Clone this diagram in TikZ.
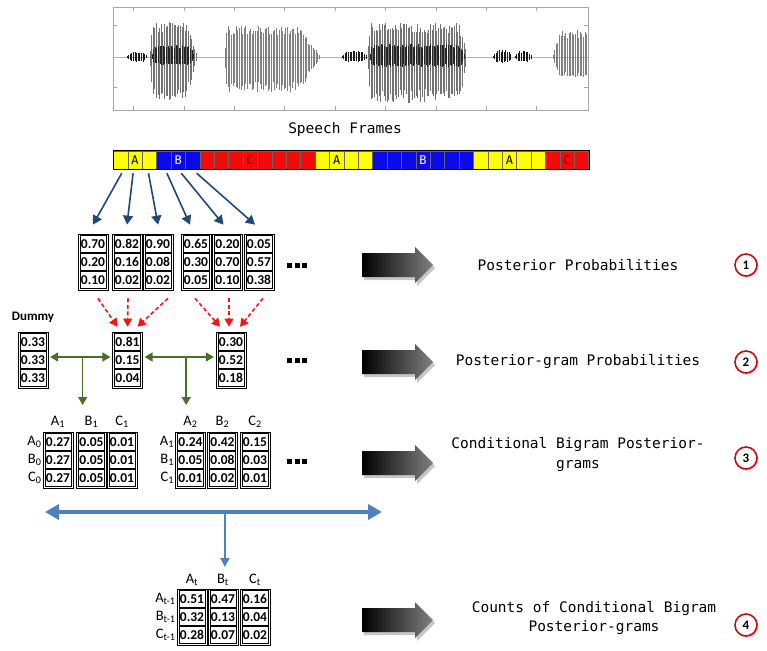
\documentclass[tikz,border=0pt]{standalone}
\usepackage{fontspec}
\setmainfont{Carlito}
\newfontfamily\codefont{DejaVu Sans Mono}
\usetikzlibrary{calc,fit,shadows,arrows.meta}

\definecolor{frameyellow}{RGB}{255,255,0}
\definecolor{frameblue}{RGB}{10,10,235}
\definecolor{framered}{RGB}{245,10,10}
\definecolor{letterred}{RGB}{120,0,0}
\definecolor{arrowblue}{RGB}{31,73,125}
\definecolor{dashred}{RGB}{250,20,20}
\definecolor{leafgreen}{RGB}{70,115,35}
\definecolor{lineblue}{RGB}{79,129,189}
\definecolor{ringred}{RGB}{195,15,15}

\tikzset{
  frmcell/.style={draw=black!60, line width=0.5pt, minimum width=14.4pt, minimum height=18pt, inner sep=0pt, font=\codefont\fontsize{12}{12}\selectfont},
  fy/.style={fill=frameyellow},
  fb/.style={fill=frameblue, text=white},
  fr/.style={fill=framered, text=letterred},
  prob/.style={draw, line width=0.6pt, minimum width=26pt, minimum height=16.5pt, inner sep=0pt, font=\bfseries\fontsize{13.5}{13.5}\selectfont},
  colbox/.style={draw, line width=0.6pt, inner sep=1.5pt},
  hdr/.style={inner sep=0pt, font=\fontsize{14.5}{14.5}\selectfont},
  note/.style={align=center, font=\codefont\fontsize{14.5}{20}\selectfont},
  stepnum/.style={circle, draw=ringred, line width=1.6pt, fill=white, minimum size=22pt, inner sep=0pt, font=\bfseries\fontsize{13}{13}\selectfont, drop shadow={opacity=0.35,shadow xshift=1.5pt,shadow yshift=-2pt}},
  framearr/.style={draw=arrowblue, line width=1.6pt, -{Triangle[length=9pt,width=10pt]}},
  mergearr/.style={draw=dashred, line width=1.6pt, dash pattern=on 4pt off 2.5pt, -{Triangle[length=8pt,width=9pt]}},
  pairarr/.style={draw=leafgreen, line width=1.6pt, {Triangle[length=8pt,width=9pt]}-{Triangle[length=8pt,width=9pt]}},
  downarr/.style={draw=leafgreen, line width=1.6pt, -{Triangle[length=8pt,width=9pt]}},
  spanarr/.style={draw=lineblue, line width=3.5pt, {Triangle[length=14pt,width=15pt]}-{Triangle[length=14pt,width=15pt]}},
  droparr/.style={draw=lineblue, line width=2pt, -{Triangle[length=9pt,width=9pt]}},
  bigarr/.style={left color=black, right color=black!50, drop shadow={opacity=0.45,shadow xshift=2pt,shadow yshift=-3pt}},
}

% one column of three boxed values
\newcommand{\probcol}[6]{%
  \node[prob] (#1-1) at (#2,#3) {#4};
  \node[prob] (#1-2) at (#2,#3+18) {#5};
  \node[prob] (#1-3) at (#2,#3+36) {#6};
  \node[colbox, fit=(#1-1)(#1-3)] (#1) {};
}

% one stretch of the speech signal: x0, x1, up, down, rise, fall, style
\newcommand{\speechseg}[7]{%
  \pgfmathtruncatemacro{\segn}{(#2-#1)/1.6}%
  \foreach \i in {0,...,\segn}{%
    \pgfmathsetmacro{\segx}{#1+1.6*\i}%
    \pgfmathsetmacro{\segenv}{min(1,(\segx-#1+1)/#5,(#2-\segx+1)/#6)}%
    \pgfmathsetmacro{\segup}{#3*\segenv*(0.7+0.3*rnd)}%
    \pgfmathsetmacro{\segdn}{#4*\segenv*(0.7+0.3*rnd)}%
    \draw[#7] (\segx,57-\segup) -- (\segx,57+\segdn);
  }%
}

\begin{document}
\begin{tikzpicture}[x=1pt,y=-1pt]
  \useasboundingbox (0,0) rectangle (767,650);
  %%%%% START %%%%%
  % speech signal
  \pgfmathsetseed{3}
  \draw[gray!70, line width=0.6pt] (113,7) rectangle (588,110);
  \foreach \k in {0,...,8}{
    \draw[gray!70] ({133.3+50.4*\k},7) -- ++(0,4);
    \draw[gray!70] ({133.3+50.4*\k},110) -- ++(0,-4);
  }
  \foreach \y in {25,57,87}{
    \draw[gray!70] (113,\y) -- ++(4,0);
    \draw[gray!70] (588,\y) -- ++(-4,0);
  }
  \draw[gray!60, line width=0.6pt] (113,57) -- (588,57);
  \speechseg{150}{197}{35}{43}{4}{12}{black!55, line width=1pt}
  \speechseg{225}{320}{32}{35}{3}{22}{black!50, line width=1pt}
  \speechseg{368}{467}{34}{46}{3}{8}{black!55, line width=1pt}
  \speechseg{553}{587}{27}{21}{8}{1}{black!50, line width=1pt}
  \speechseg{152}{195}{12}{8}{3}{6}{black!85, line width=1pt}
  \speechseg{370}{465}{13}{10}{3}{6}{black!85, line width=1pt}
  \speechseg{127}{147}{5}{5}{5}{5}{black!90, line width=1pt}
  \speechseg{342}{367}{6}{5}{5}{5}{black!90, line width=1pt}
  \speechseg{493}{512}{7}{6}{5}{5}{black!90, line width=1pt}
  \speechseg{515}{532}{6}{5}{5}{5}{black!90, line width=1pt}

  \node[note] (sf) at (345,129) {Speech Frames};

  % frame bar
  \foreach \c/\t [count=\i] in {fy/{},fy/A,fy/{},fb/{},fb/B,fb/{},fr/{},fr/{},fr/{},fr/C,fr/{},fr/{},fr/{},fr/{},
    fy/{},fy/A,fy/{},fy/{},fb/{},fb/{},fb/{},fb/B,fb/{},fb/{},fb/{},fy/{},fy/{},fy/A,fy/{},fy/{},fr/{},fr/C,fr/{}}
    \node[frmcell,\c] (f\i) at ({113.5+14.4*\i-7.2},160) {\t};
  \node[draw, line width=0.8pt, inner sep=0pt, fit=(f1)(f33)] (bar) {};

  % posterior probabilities
  \probcol{p1}{93}{244}{0.70}{0.20}{0.10}
  \probcol{p2}{127}{244}{0.82}{0.16}{0.02}
  \probcol{p3}{158}{244}{0.90}{0.08}{0.02}
  \probcol{p4}{196}{244}{0.65}{0.30}{0.05}
  \probcol{p5}{227.5}{244}{0.20}{0.70}{0.10}
  \probcol{p6}{259}{244}{0.05}{0.57}{0.38}
  \foreach \i/\dx/\ex in {1/1/0,2/-2/0,3/-1/0,4/3/-6,5/3/-4,6/4/-4}
    \draw[framearr] ($(f\i.south)+(\dx,4)$) -- ($(p\i.north)+(\ex,-9)$);

  % posterior-grams
  \node[font=\bfseries\fontsize{13}{13}\selectfont] (dummy) at (33,317) {Dummy};
  \probcol{d}{33}{342}{0.33}{0.33}{0.33}
  \probcol{m1}{127.5}{342}{0.81}{0.15}{0.04}
  \probcol{m2}{231}{342}{0.30}{0.52}{0.18}
  \draw[mergearr] ($(p1.south)+(5,8)$) -- ($(m1.north)+(-10,-5)$);
  \draw[mergearr] ($(p2.south)+(1,8)$) -- ($(m1.north)+(0,-5)$);
  \draw[mergearr] ($(p3.south)+(10,8)$) -- ($(m1.north)+(10,-5)$);
  \draw[mergearr] ($(p4.south)+(-1,8)$) -- ($(m2.north)+(-11,-5)$);
  \draw[mergearr] ($(p5.south)+(1.5,8)$) -- ($(m2.north)+(-2,-5)$);
  \draw[mergearr] ($(p6.south)+(4,8)$) -- ($(m2.north)+(9,-5)$);

  \draw[pairarr] ($(d.east)+(2,-3)$) -- coordinate[pos=0.54] (g1) ($(m1.west)+(-2,-3)$);
  \draw[pairarr] ($(m1.east)+(2,-3)$) -- coordinate[pos=0.6] (g2) ($(m2.west)+(-2,-3)$);
  \coordinate (g1e) at ($(g1)+(0,48)$);
  \coordinate (g2e) at ($(g2)+(0,48)$);
  \draw[downarr] (g1) -- (g1e);
  \draw[downarr] (g2) -- (g2e);

  % conditional bigram posterior-grams
  \probcol{ba}{58}{442}{0.27}{0.27}{0.27}
  \probcol{bb}{91.5}{442}{0.05}{0.05}{0.05}
  \probcol{bc}{122}{442}{0.01}{0.01}{0.01}
  \node[hdr] (hA1) at ($(ba.north)+(0,-10)$) {A\textsubscript{1}};
  \node[hdr] (hB1) at ($(bb.north)+(0,-10)$) {B\textsubscript{1}};
  \node[hdr] (hC1) at ($(bc.north)+(0,-10)$) {C\textsubscript{1}};
  \node[hdr, anchor=east] (rA0) at ($(ba-1.west)+(-3,0)$) {A\textsubscript{0}};
  \node[hdr, anchor=east] (rB0) at ($(ba-2.west)+(-3,0)$) {B\textsubscript{0}};
  \node[hdr, anchor=east] (rC0) at ($(ba-3.west)+(-3,0)$) {C\textsubscript{0}};

  \probcol{ca}{190.5}{442}{0.24}{0.05}{0.01}
  \probcol{cb}{222.5}{442}{0.42}{0.08}{0.02}
  \probcol{cc}{255}{442}{0.15}{0.03}{0.01}
  \node[hdr] (hA2) at ($(ca.north)+(0,-10)$) {A\textsubscript{2}};
  \node[hdr] (hB2) at ($(cb.north)+(0,-10)$) {B\textsubscript{2}};
  \node[hdr] (hC2) at ($(cc.north)+(0,-10)$) {C\textsubscript{2}};
  \node[hdr, anchor=east] (rA1) at ($(ca-1.west)+(-3,0)$) {A\textsubscript{1}};
  \node[hdr, anchor=east] (rB1) at ($(ca-2.west)+(-3,0)$) {B\textsubscript{1}};
  \node[hdr, anchor=east] (rC1) at ($(ca-3.west)+(-3,0)$) {C\textsubscript{1}};

  % ellipsis squares
  \foreach \y in {265,360,461}
    \foreach \k in {0,1,2}
      \fill ({287+7.5*\k},\y-2.5) rectangle ++(5,5);

  % collecting the counts
  \coordinate (lL) at (45,512);
  \coordinate (lR) at (382,512);
  \draw[spanarr] (lL) -- coordinate[pos=0.534] (lM) (lR);
  \coordinate (lD) at ($(lM)+(0,55)$);
  \draw[droparr] (lM) -- (lD);

  \probcol{ta}{192}{599}{0.51}{0.32}{0.28}
  \probcol{tb}{223}{599}{0.47}{0.13}{0.07}
  \probcol{tc}{255}{599}{0.16}{0.04}{0.02}
  \node[hdr] (hAt) at ($(ta.north)+(0,-9)$) {A\textsubscript{t}};
  \node[hdr] (hBt) at ($(tb.north)+(0,-9)$) {B\textsubscript{t}};
  \node[hdr] (hCt) at ($(tc.north)+(0,-9)$) {C\textsubscript{t}};
  \node[hdr, anchor=east] (rAt) at ($(ta-1.west)+(-3,0)$) {A\textsubscript{t-1}};
  \node[hdr, anchor=east] (rBt) at ($(ta-2.west)+(-3,0)$) {B\textsubscript{t-1}};
  \node[hdr, anchor=east] (rCt) at ($(ta-3.west)+(-3,0)$) {C\textsubscript{t-1}};

  % steps on the right
  \foreach \y in {265,362,463,620}
    \path[bigarr] (362,\y-12) -- (415,\y-12) -- (415,\y-18) -- (433,\y)
      -- (415,\y+18) -- (415,\y+12) -- (362,\y+12) -- cycle;

  \node[note] (t1) at (578,265) {Posterior Probabilities};
  \node[note] (t2) at (578,362) {Posterior-gram Probabilities};
  \node[note] (t3) at (578,455) {Conditional Bigram Posterior-\\grams};
  \node[note] (t4) at (594,618) {Counts of Conditional Bigram\\Posterior-grams};

  \node[stepnum] (n1) at (746,265) {1};
  \node[stepnum] (n2) at (746,362) {2};
  \node[stepnum] (n3) at (746,458) {3};
  \node[stepnum] (n4) at (746,625) {4};
  %%%%% END %%%%%
\end{tikzpicture}
\end{document}
